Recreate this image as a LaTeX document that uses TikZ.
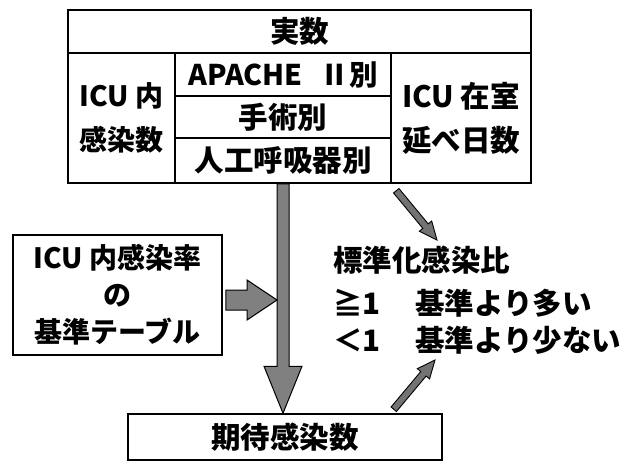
\documentclass[tikz,border=0pt]{standalone}
\usepackage{fontspec}
\setmainfont{Noto Sans CJK JP}
\usetikzlibrary{calc}
\newcommand\grayarrow[2]{%
  \coordinate (ga-base) at ($(#2)!18pt!(#1)$);
  \filldraw[draw=black,line width=0.9pt,fill=black!55]
    ($(#1)!3.5pt!90:(#2)$) -- ($(ga-base)!3.5pt!90:(#2)$) -- ($(ga-base)!8pt!90:(#2)$)
    -- (#2) -- ($(ga-base)!8pt!-90:(#2)$) -- ($(ga-base)!3.5pt!-90:(#2)$)
    -- ($(#1)!3.5pt!-90:(#2)$) -- cycle;}
\begin{document}
\begin{tikzpicture}[x=1pt,y=-1pt,
  cell/.style={draw=black,line width=1.5pt,inner sep=0pt,align=center,
    font=\fontsize{29.5}{44}\selectfont\bfseries},
  txt/.style={inner sep=0pt,anchor=west,font=\fontsize{29.5}{30}\selectfont\bfseries},
  blockarrow/.style={draw=black,line width=1pt,fill=black!50}]
\useasboundingbox (0,0) rectangle (627,463);
% top table
\node[cell,minimum width=463pt,minimum height=43pt] (jissu) at (299.5,31.5) {実数};
\node[cell,minimum width=107pt,minimum height=130pt,font=\fontsize{28}{44}\selectfont\bfseries] (lcell) at (121.5,118) {ICU 内\\感染数};
\node[cell,minimum width=216pt,minimum height=43pt,font=\fontsize{28.5}{44}\selectfont\bfseries] (m1) at (283,74.5) {APACHE\hspace{18pt}Ⅱ別};
\node[cell,minimum width=216pt,minimum height=42pt] (m2) at (283,117) {手術別};
\node[cell,minimum width=216pt,minimum height=45pt] (m3) at (283,160.5) {人工呼吸器別};
\node[cell,minimum width=140pt,minimum height=130pt] (rcell) at (461,118) {ICU 在室\\延べ日数};
% left box
\node[cell,minimum width=209pt,minimum height=120pt,font=\fontsize{28}{37}\selectfont\bfseries] (tbl) at (117.5,295) {ICU 内感染率\\の\\基準テーブル};
% bottom box
\node[cell,minimum width=314pt,minimum height=46pt] (exp) at (285,437) {期待感染数};
% right text
\node[txt] (sir) at (333,260) {標準化感染比};
\node[txt] (ge) at (333,303) {≧1};
\node[txt] (gemsg) at (415,303) {基準より多い};
\node[txt] (lt) at (333,340) {＜1};
\node[txt] (ltmsg) at (415,340) {基準より少ない};
% vertical block arrow
\coordinate (vtip) at (m3.south |- exp.north);
\draw[blockarrow] ($(m3.south)+(-6,0)$) -- ($(vtip)+(-6,-47)$) -- ($(vtip)+(-19,-47)$)
  -- (vtip) -- ($(vtip)+(19,-47)$) -- ($(vtip)+(6,-47)$) -- ($(m3.south)+(6,0)$) -- cycle;
% horizontal block arrow
\coordinate (htip) at ($(m3.south |- tbl.east)+(-6,5)$);
\draw[blockarrow] ($(tbl.east)+(3,-5)$) -- ($(htip)+(-30,-10)$) -- ($(htip)+(-30,-20)$)
  -- (htip) -- ($(htip)+(-30,20)$) -- ($(htip)+(-30,10)$) -- ($(tbl.east)+(3,15)$) -- cycle;
% thin arrows
\coordinate (a1s) at ($(rcell.south west)+(6,7)$);
\coordinate (a1e) at (437,240);
\grayarrow{a1s}{a1e}
\coordinate (a2s) at ($(exp.north east)+(-49,-4)$);
\coordinate (a2e) at (435,360);
\grayarrow{a2s}{a2e}
\end{tikzpicture}
\end{document}
